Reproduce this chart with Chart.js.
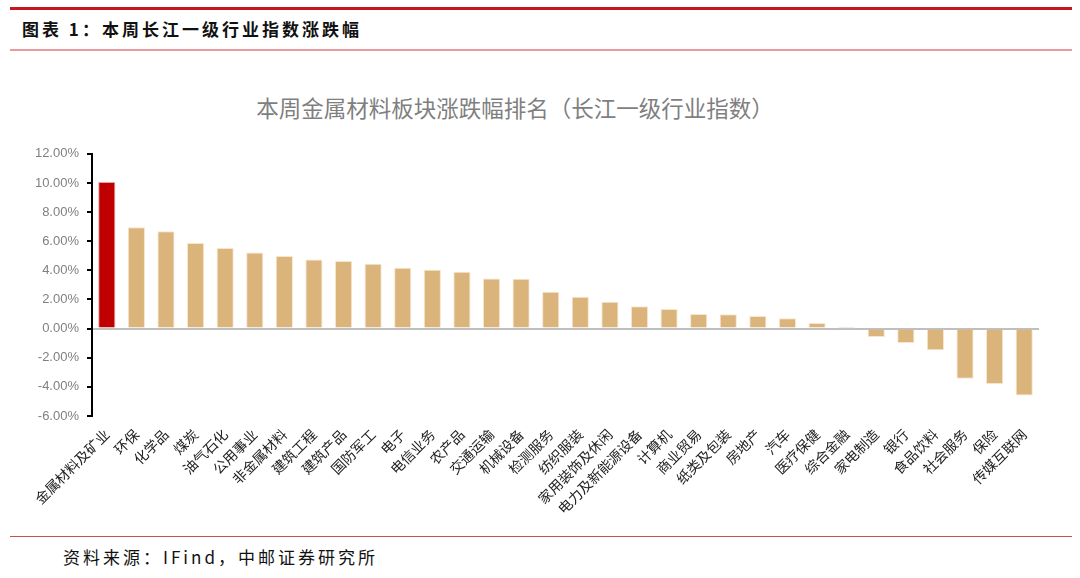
<!DOCTYPE html>
<html>
<head>
<meta charset="utf-8">
<script src="https://cdn.jsdelivr.net/npm/chart.js@4"></script>
<style>
  body { margin: 0; background: #fff; width: 1080px; height: 578px; overflow: hidden; position: relative; font-family: "Noto Sans CJK SC", sans-serif; }
  .line { position: absolute; left: 10px; width: 1062px; }
  #top { top: 7px; height: 3px; background: #c8161d; }
  #sub { top: 49px; height: 2px; background: #e99a9a; }
  #bot { top: 536px; height: 1px; background: #d24a4a; }
  #head { position: absolute; left: 22px; top: 16px; font-size: 17px; font-weight: bold; letter-spacing: 3px; color: #111; }
  #src { position: absolute; left: 63px; top: 544px; font-size: 17px; letter-spacing: 3px; color: #111; }
  #title { position: absolute; left: 0; width: 1030px; top: 91px; text-align: center; font-size: 22.5px; color: #7f7f7f; }
  #box { position: absolute; left: 0; top: 138px; width: 1050px; height: 382px; }
</style>
</head>
<body>
<div class="line" id="top"></div>
<div id="head">图表 1：本周长江一级行业指数涨跌幅</div>
<div class="line" id="sub"></div>
<div id="title">本周金属材料板块涨跌幅排名（长江一级行业指数）</div>
<div id="box"><canvas id="chart"></canvas></div>
<div class="line" id="bot"></div>
<div id="src">资料来源：IFind，中邮证券研究所</div>
<script>
const industries = ['金属材料及矿业', '环保', '化学品', '煤炭', '油气石化', '公用事业', '非金属材料', '建筑工程', '建筑产品', '国防军工',
    '电子', '电信业务', '农产品', '交通运输', '机械设备', '检测服务', '纺织服装', '家用装饰及休闲', '电力及新能源设备', '计算机',
    '商业贸易', '纸类及包装', '房地产', '汽车', '医疗保健', '综合金融', '家电制造', '银行', '食品饮料', '社会服务', '保险', '传媒互联网'];
const weeklyChange = [10.07, 6.95, 6.68, 5.88, 5.53, 5.23, 4.98, 4.75, 4.64, 4.45,
    4.18, 4.04, 3.9, 3.44, 3.42, 2.53, 2.18, 1.84, 1.54, 1.35,
    1.0, 0.98, 0.87, 0.71, 0.39, 0.02, -0.57, -0.98, -1.48, -3.45, -3.8, -4.6];
const highlight = '金属材料及矿业';

const ctx = document.querySelector('#chart').getContext('2d');

const chart = new Chart(ctx, {
    type: 'bar',
    data: {
        labels: industries,
        datasets: [{
            data: weeklyChange,
            backgroundColor: industries.map(n => n === highlight ? '#c00000' : '#dbb47c'),
            borderColor: industries.map(n => n === highlight ? '#e8a0a0' : '#f6e6cc'),
            borderWidth: 1,
            barPercentage: 0.58,
            categoryPercentage: 1
        }]
    },
    options: {
        responsive: true,
        maintainAspectRatio: false,
        animation: false,
        layout: { padding: { top: 9, right: 11, bottom: 0, left: 0 } },
        plugins: {
            legend: { display: false },
            tooltip: { enabled: false }
        },
        scales: {
            x: {
                grid: { display: false },
                border: { display: false },
                ticks: {
                    autoSkip: false,
                    maxRotation: 45,
                    minRotation: 45,
                    color: '#222',
                    font: { family: 'Noto Sans CJK SC', size: 14 },
                    padding: 2
                },
                afterFit: s => { s.height = 104; }
            },
            y: {
                min: -6,
                max: 12,
                ticks: {
                    stepSize: 2,
                    color: '#808080',
                    font: { family: 'Liberation Sans', size: 13 },
                    padding: 8,
                    callback: v => v.toFixed(2) + '%'
                },
                grid: {
                    color: c => c.tick && c.tick.value === 0 ? '#bfbfbf' : 'rgba(0,0,0,0)',
                    lineWidth: 2,
                    tickColor: '#000',
                    tickLength: 5,
                    drawTicks: true
                },
                border: { color: '#000', width: 2 },
                afterFit: s => { s.width = 92; }
            }
        }
    }
});
</script>
</body>
</html>
